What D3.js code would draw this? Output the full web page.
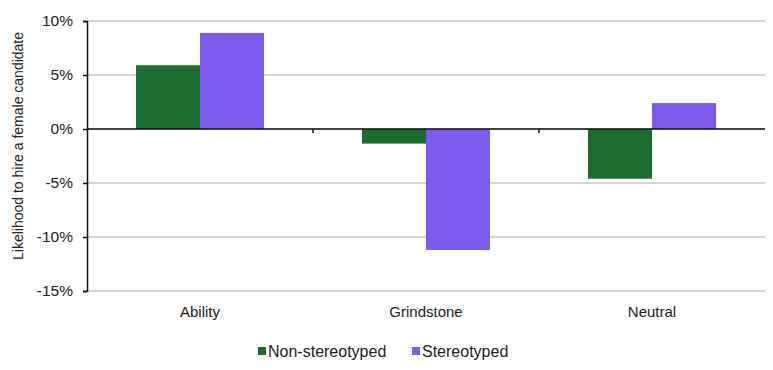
<!DOCTYPE html>
<html>
<head>
<meta charset="utf-8">
<script src="https://cdn.jsdelivr.net/npm/d3@7"></script>
<style>
  body { margin: 0; background: #fff; }
  svg text { font-family: "Liberation Sans", Arial, sans-serif; fill: #222; }
</style>
</head>
<body>
<svg id="chart" width="773" height="370"></svg>
<script>
var categories = ['Ability', 'Grindstone', 'Neutral']
var seriesNames = ['Non-stereotyped', 'Stereotyped']
var nonStereotyped = [5.9, -1.35, -4.6]
var stereotyped = [8.9, -11.2, 2.4]
var yTicks = [10, 5, 0, -5, -10, -15]

var colors = ['#1c6b2f', '#7f5aee']

var svg = d3.select('#chart')
var margin = {left: 87, right: 765, top: 21, bottom: 291}

var x = d3.scaleBand()
          .domain(categories)
          .range([margin.left, margin.right])

var xInner = d3.scaleBand()
               .domain(seriesNames)
               .range([0, 128])

var y = d3.scaleLinear()
          .domain([-15, 10])
          .range([margin.bottom, margin.top])

// gridlines
svg.append('g')
   .selectAll('line')
   .data(yTicks)
   .join('line')
   .attr('x1', margin.left)
   .attr('x2', margin.right)
   .attr('y1', d => y(d))
   .attr('y2', d => y(d))
   .attr('stroke', '#c8c8c8')
   .attr('stroke-width', 1.3)

// bars
var data = categories.map((c, i) => ({cat: c, values: [nonStereotyped[i], stereotyped[i]]}))

var group = svg.selectAll('g.group')
               .data(data)
               .join('g')
               .attr('class', 'group')
               .attr('transform', d => 'translate(' + (x(d.cat) + (x.bandwidth() - 128) / 2) + ',0)')

group.selectAll('rect')
     .data(d => d.values.map((v, i) => ({name: seriesNames[i], value: v, i: i})))
     .join('rect')
     .attr('x', d => xInner(d.name))
     .attr('width', xInner.bandwidth())
     .attr('y', d => y(Math.max(0, d.value)))
     .attr('height', d => Math.abs(y(d.value) - y(0)))
     .attr('fill', d => colors[d.i])

// zero line with category separators
svg.append('line')
   .attr('x1', margin.left)
   .attr('x2', margin.right)
   .attr('y1', y(0))
   .attr('y2', y(0))
   .attr('stroke', '#111')
   .attr('stroke-width', 1.5)

svg.append('g')
   .selectAll('line')
   .data(categories.slice(1))
   .join('line')
   .attr('x1', d => x(d))
   .attr('x2', d => x(d))
   .attr('y1', y(0))
   .attr('y2', y(0) + 4)
   .attr('stroke', '#111')
   .attr('stroke-width', 1.5)

// y axis
var yAxis = d3.axisLeft(y)
              .tickValues(yTicks)
              .tickSize(4)
              .tickFormat(d => d + '%')

var yAxisG = svg.append('g')
   .attr('transform', 'translate(' + margin.left + ',0)')
   .call(yAxis)

yAxisG.select('.domain').attr('stroke', '#111').attr('stroke-width', 1.5)
yAxisG.selectAll('.tick line').attr('stroke', '#111').attr('stroke-width', 1.5)
yAxisG.selectAll('.tick text')
      .attr('x', -14)
      .style('font-size', '15.5px')
      .style('font-family', '"Liberation Sans", Arial, sans-serif')
      .attr('fill', '#222')

// category labels
svg.append('g')
   .selectAll('text')
   .data(categories)
   .join('text')
   .attr('x', d => x(d) + x.bandwidth() / 2)
   .attr('y', 317)
   .attr('text-anchor', 'middle')
   .style('font-size', '15px')
   .text(d => d)

// y axis title
svg.append('text')
   .attr('transform', 'translate(23,146) rotate(-90)')
   .attr('text-anchor', 'middle')
   .style('font-size', '14px')
   .text('Likelihood to hire a female candidate')

// legend
var legendX = [258, 412]
var legend = svg.append('g')
legend.selectAll('rect')
      .data(seriesNames)
      .join('rect')
      .attr('x', (d, i) => legendX[i])
      .attr('y', 347)
      .attr('width', 8)
      .attr('height', 8)
      .attr('fill', (d, i) => colors[i])

legend.selectAll('text')
      .data(seriesNames)
      .join('text')
      .attr('x', (d, i) => legendX[i] + 10)
      .attr('y', 357)
      .style('font-size', '16px')
      .text(d => d)
</script>
</body>
</html>
